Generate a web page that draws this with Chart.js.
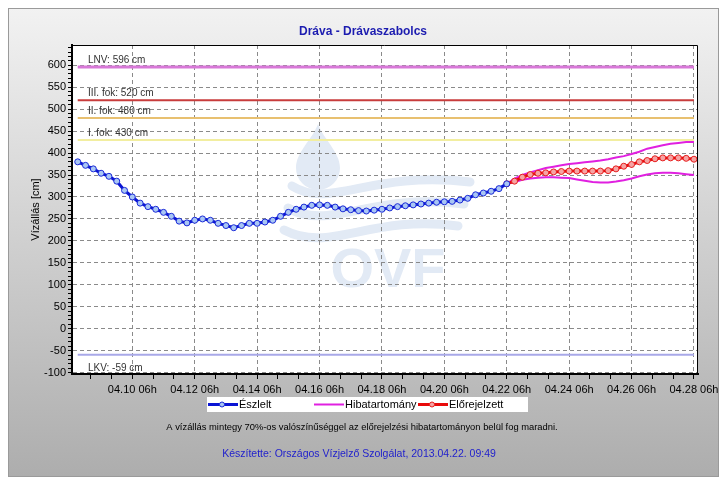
<!DOCTYPE html>
<html>
<head>
<meta charset="utf-8">
<script src="https://cdn.jsdelivr.net/npm/chart.js@4.4.1/dist/chart.umd.min.js"></script>
<style>
  html, body { margin: 0; padding: 0; background: #fff; }
  #c { display: block; }
</style>
</head>
<body>
<canvas id="c" width="727" height="490"></canvas>
<script>
// hours counted from 2013.04.08 00h
const obsHours = [12, 18, 24, 30, 36, 42, 48, 54, 60, 66, 72, 78, 84, 90, 96, 102, 108, 114, 120, 126,
  132, 138, 144, 150, 156, 162, 168, 174, 180, 186, 192, 198, 204, 210, 216, 222, 228, 234, 240, 246,
  252, 258, 264, 270, 276, 282, 288, 294, 300, 306, 312, 318, 324, 330, 336, 342];
const observed = [380, 372, 364, 354, 347, 336, 315, 300, 286, 278, 272, 265, 256, 245, 241, 247, 250, 247, 240, 235,
  230, 235, 240, 240, 243, 247, 256, 265, 272, 277, 281, 282, 281, 277, 273, 271, 269, 268, 270, 272,
  275, 278, 280, 282, 284, 286, 288, 289, 290, 293, 297, 305, 309, 313, 319, 330];

const fcHours = [342, 348, 354, 360, 366, 372, 378, 384, 390, 396, 402, 408, 414, 420, 426, 432, 438, 444,
  450, 456, 462, 468, 474, 480, 486];
const forecast = [330, 336, 345, 351, 354, 355, 357, 358, 359, 359, 359, 359, 359, 360, 364, 370, 374, 380,
  383, 387, 389, 389, 389, 388, 386];
const bandUpper = [330, 342, 350, 356, 361, 366, 369, 372, 375, 377, 379, 381, 383, 386, 390, 393, 398, 403,
  410, 414, 418, 421, 423, 425, 425];
const bandLower = [330, 334, 339, 342, 344, 345, 345, 344, 343, 340, 337, 334, 333, 333, 335, 338, 342, 347,
  351, 354, 355, 355, 354, 352, 350];

// alert levels
const levelNames = ['LNV', 'III. fok', 'II. fok', 'I. fok', 'LKV'];
const levelValues = [596, 520, 480, 430, -59];
const levelColors = ['#d878d8', '#c83c3c', '#e8c070', '#f2eea0', '#a8a8e8'];
const levelSpan = [12, 486];

const xMin = 7.6, xMax = 489.1;
const yMin = -103, yMax = 646;

const FONT = '"Liberation Sans", Arial, sans-serif';

function hourLabel(h) {
  const day = 8 + Math.floor(h / 24);
  const hr = h % 24;
  return '04.' + String(day).padStart(2, '0') + ' ' + String(hr).padStart(2, '0') + 'h';
}

const levelSets = levelValues.map((v, i) => ({
  label: levelNames[i],
  data: levelSpan.map(x => ({ x: x, y: v })),
  borderColor: levelColors[i],
  borderWidth: i === 0 ? 3 : 2,
  pointRadius: 0,
  order: 5
}));

const frame = {
  id: 'frame',
  beforeDraw(chart) {
    const { ctx, width, height, chartArea: a } = chart;
    ctx.save();
    ctx.fillStyle = '#fff';
    ctx.fillRect(0, 0, width, height);
    const g = ctx.createLinearGradient(0, 8, 0, 477);
    g.addColorStop(0, '#f2f2f2');
    g.addColorStop(1, '#adadad');
    ctx.fillStyle = g;
    ctx.fillRect(8, 8, 711, 469);
    ctx.strokeStyle = '#9a9a9a';
    ctx.lineWidth = 1;
    ctx.strokeRect(8.5, 8.5, 710, 468);
    ctx.fillStyle = '#fff';
    ctx.fillRect(a.left, a.top, a.right - a.left, a.bottom - a.top);

    // OVF watermark
    ctx.fillStyle = '#e2eaf5';
    ctx.strokeStyle = '#e2eaf5';
    ctx.beginPath();
    ctx.moveTo(318, 124);
    ctx.bezierCurveTo(312, 140, 296, 152, 296, 168);
    ctx.arc(318, 168, 22, Math.PI, 0, true);
    ctx.bezierCurveTo(340, 152, 324, 140, 318, 124);
    ctx.fill();
    ctx.lineWidth = 9;
    ctx.lineCap = 'round';
    [[0, 0], [1, 22], [2, 44]].forEach(([k, dy]) => {
      ctx.beginPath();
      ctx.moveTo(292 - k * 4, 186 + dy);
      ctx.bezierCurveTo(330, 210 + dy, 370, 170 + dy, 470 - k * 6, 182 + dy);
      ctx.stroke();
    });
    ctx.font = 'bold 56px ' + FONT;
    ctx.textAlign = 'center';
    ctx.textBaseline = 'alphabetic';
    ctx.fillText('OVF', 388, 287);
    ctx.restore();
  },
  afterDatasetsDraw(chart) {
    const { ctx } = chart;
    const y = chart.scales.y;
    ctx.save();
    ctx.fillStyle = '#333';
    ctx.font = '10px ' + FONT;
    ctx.textAlign = 'left';
    ctx.textBaseline = 'middle';
    levelValues.forEach((v, i) => {
      const py = y.getPixelForValue(v);
      const ty = v < 0 ? py + 14 : py - 7;
      ctx.fillText(levelNames[i] + ': ' + v + ' cm', 88, ty);
    });
    ctx.restore();
  },
  afterDraw(chart) {
    const { ctx, chartArea: a } = chart;
    ctx.save();
    // top and right border of plot
    ctx.strokeStyle = '#000';
    ctx.lineWidth = 1;
    ctx.beginPath();
    ctx.moveTo(a.left, a.top + 0.5);
    ctx.lineTo(a.right - 0.5, a.top + 0.5);
    ctx.lineTo(a.right - 0.5, a.bottom);
    ctx.stroke();

    // title
    ctx.fillStyle = '#1c1cb0';
    ctx.font = 'bold 12px ' + FONT;
    ctx.textAlign = 'center';
    ctx.textBaseline = 'middle';
    ctx.fillText('Dráva - Drávaszabolcs', 363, 32);

    // y axis title
    ctx.save();
    ctx.translate(36, (a.top + a.bottom) / 2);
    ctx.rotate(-Math.PI / 2);
    ctx.fillStyle = '#000';
    ctx.font = '11px ' + FONT;
    ctx.fillText('Vízállás [cm]', 0, 0);
    ctx.restore();

    // legend
    ctx.fillStyle = '#fff';
    ctx.fillRect(207, 397, 321, 15);
    const items = [
      { x: 208, ds: chart.data.datasets[0], marker: true, text: 'Észlelt' },
      { x: 314, ds: chart.data.datasets[2], marker: false, text: 'Hibatartomány' },
      { x: 418, ds: chart.data.datasets[1], marker: true, text: 'Előrejelzett' }
    ];
    items.forEach(it => {
      const ly = 404.5;
      ctx.strokeStyle = it.ds.borderColor;
      ctx.lineWidth = it.marker ? 3 : 2;
      ctx.beginPath();
      ctx.moveTo(it.x, ly);
      ctx.lineTo(it.x + 30, ly);
      ctx.stroke();
      if (it.marker) {
        ctx.fillStyle = it.ds.pointBackgroundColor;
        ctx.strokeStyle = it.ds.pointBorderColor;
        ctx.lineWidth = 1;
        ctx.beginPath();
        ctx.arc(it.x + 14, ly, 2.5, 0, Math.PI * 2);
        ctx.fill();
        ctx.stroke();
      }
      ctx.fillStyle = '#000';
      ctx.font = '11px ' + FONT;
      ctx.textAlign = 'left';
      ctx.fillText(it.text, it.x + 31, ly + 0.5);
    });

    // notes
    ctx.textAlign = 'center';
    ctx.fillStyle = '#000';
    ctx.font = '9.4px ' + FONT;
    ctx.fillText('A vízállás mintegy 70%-os valószínűséggel az előrejelzési hibatartományon belül fog maradni.', 362, 427);
    ctx.fillStyle = '#2222cc';
    ctx.font = '10.5px ' + FONT;
    ctx.fillText('Készítette: Országos Vízjelző Szolgálat, 2013.04.22. 09:49', 359, 454);
    ctx.restore();
  }
};

new Chart(document.getElementById('c'), {
  type: 'line',
  data: {
    datasets: [
      {
        label: 'Észlelt',
        data: obsHours.map((h, i) => ({ x: h, y: observed[i] })),
        borderColor: '#0a14d4',
        borderWidth: 3,
        pointRadius: 3,
        pointBackgroundColor: '#a9c6f4',
        pointBorderColor: '#1a2ad8',
        pointBorderWidth: 1,
        order: 1
      },
      {
        label: 'Előrejelzett',
        data: fcHours.map((h, i) => ({ x: h, y: forecast[i] })),
        borderColor: '#e80a0a',
        borderWidth: 3,
        pointRadius: 3,
        pointBackgroundColor: '#f6a4a4',
        pointBorderColor: '#e82020',
        pointBorderWidth: 1,
        order: 2
      },
      {
        label: 'Hibatartomány',
        data: fcHours.map((h, i) => ({ x: h, y: bandUpper[i] })),
        borderColor: '#e020e0',
        borderWidth: 2,
        pointRadius: 0,
        order: 3
      },
      {
        label: 'Hibatartomány alsó',
        data: fcHours.map((h, i) => ({ x: h, y: bandLower[i] })),
        borderColor: '#e020e0',
        borderWidth: 2,
        pointRadius: 0,
        order: 3
      },
      ...levelSets
    ]
  },
  options: {
    responsive: false,
    devicePixelRatio: 1,
    animation: false,
    layout: { padding: { left: 0, top: 45, right: 29, bottom: 0 } },
    plugins: {
      legend: { display: false },
      title: { display: false },
      tooltip: { enabled: false }
    },
    elements: { line: { tension: 0 } },
    scales: {
      x: {
        type: 'linear',
        min: xMin,
        max: xMax,
        afterFit(scale) { scale.height = 116; },
        afterBuildTicks(scale) {
          const t = [];
          for (let h = 22; h <= 486; h += 16) t.push({ value: h });
          scale.ticks = t;
        },
        ticks: {
          autoSkip: false,
          maxRotation: 0,
          padding: 4,
          color: '#000',
          font: { family: FONT, size: 11 },
          callback: v => ((v - 6) % 48 === 0 ? hourLabel(v) : '')
        },
        grid: {
          color: c => (c.tick && (c.tick.value - 6) % 48 === 0 ? '#8a8a8a' : 'rgba(0,0,0,0)'),
          tickColor: '#000',
          tickLength: 5,
          lineWidth: 1
        },
        border: { display: true, color: '#000', width: 2, dash: [4, 3] }
      },
      y: {
        type: 'linear',
        min: yMin,
        max: yMax,
        afterFit(scale) { scale.width = 72; },
        afterBuildTicks(scale) {
          const t = [];
          for (let v = -100; v <= 640; v += 10) t.push({ value: v });
          scale.ticks = t;
        },
        ticks: {
          autoSkip: false,
          padding: 2,
          color: '#000',
          font: { family: FONT, size: 11 },
          callback: v => (v % 50 === 0 ? String(v) : '')
        },
        grid: {
          color: c => (c.tick && c.tick.value % 50 === 0 ? '#8a8a8a' : 'rgba(0,0,0,0)'),
          tickColor: '#000',
          tickLength: 4,
          lineWidth: 1
        },
        border: { display: true, color: '#000', width: 2, dash: [4, 3] }
      }
    }
  },
  plugins: [frame]
});
</script>
</body>
</html>
